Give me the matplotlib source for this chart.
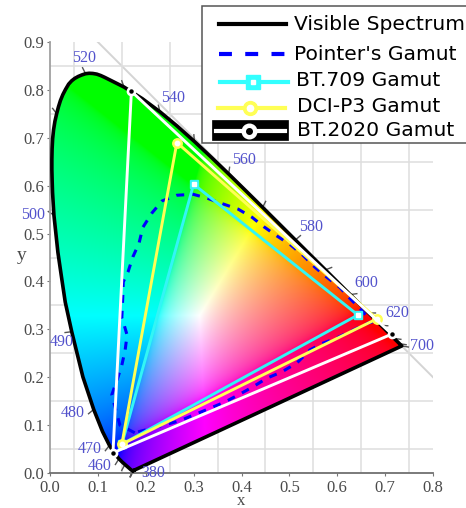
import numpy as np
import matplotlib
matplotlib.use("Agg")
import matplotlib.pyplot as plt
from matplotlib.patches import Polygon, Rectangle

# --- Datos ---
wavelengths = [380, 390, 400, 410, 420, 430, 440, 450, 455, 460, 465, 470, 475, 480, 485, 490,
               493, 495, 497, 500, 502, 503, 504, 505, 506, 507, 508, 509, 510, 511, 512, 513,
               514, 515, 516, 517, 518, 519, 520, 521, 522, 523, 524, 525, 530, 535, 540, 545,
               550, 555, 560, 565, 570, 575, 580, 585, 590, 595, 600, 605, 610, 615, 620, 625,
               630, 640, 650, 660, 680, 700]
locus_x = [.1741, .1738, .1733, .1726, .1714, .1689, .1644, .1566, .1510, .1440, .1355, .1241,
           .1096, .0913, .0687, .0454, .0318, .0235, .0165, .0082, .0053, .0045, .0039, .0039,
           .0044, .0055, .0075, .0103, .0139, .0177, .0219, .0268, .0325, .0389, .0452, .0517,
           .0589, .0665, .0743, .0818, .0895, .0977, .1059, .1142, .1547, .1929, .2296, .2658,
           .3016, .3373, .3731, .4087, .4441, .4788, .5125, .5448, .5752, .6029, .6270, .6482,
           .6658, .6801, .6915, .7006, .7079, .7190, .7260, .7300, .7334, .7347]
locus_y = [.0050, .0049, .0048, .0048, .0051, .0069, .0109, .0177, .0227, .0297, .0399, .0578,
           .0868, .1327, .2007, .2950, .3570, .4127, .4607, .5384, .5860, .6102, .6330, .6548,
           .6770, .6980, .7170, .7345, .7502, .7647, .7781, .7901, .8011, .8120, .8189, .8240,
           .8280, .8312, .8338, .8347, .8343, .8329, .8300, .8262, .8059, .7816, .7543, .7243,
           .6923, .6589, .6245, .5896, .5547, .5202, .4866, .4544, .4242, .3965, .3725, .3514,
           .3340, .3197, .3083, .2993, .2920, .2809, .2740, .2700, .2666, .2653]

pointer_x = [.177, .146, .129, .140, .150, .157, .161, .152, .150, .152, .153, .163, .173, .186,
             .194, .213, .234, .265, .299, .328, .361, .393, .422, .447, .474, .503, .528, .553,
             .578, .605, .626, .647, .672, .664, .599, .570, .543, .516, .484, .453, .424, .397,
             .365, .271, .177]
pointer_y = [.084, .100, .163, .194, .225, .257, .288, .319, .324, .367, .399, .420, .451, .480,
             .513, .543, .568, .580, .582, .574, .562, .551, .534, .514, .495, .476, .455, .430,
             .409, .388, .365, .344, .315, .313, .282, .271, .257, .230, .211, .198, .180, .165,
             .148, .109, .084]

bt709_x = [.643, .30, .15]
bt709_y = [.33, .603, .06]
p3_x = [.683, .265, .15]
p3_y = [.322, .69, .06]
bt2020_x = [.714, .17, .1315]
bt2020_y = [.290, .797, .042]

locus_labels = ["380", "460", "470", "480", "490", "500", "520", "540", "560", "580", "600", "620", "700"]
label_px = [153, 100, 90, 73, 62, 33, 84, 173, 244, 311, 366, 397, 422]
label_py = [473, 466, 449, 413, 342, 215, 58, 98, 160, 227, 283, 313, 346]

legend_labels = ["Visible Spectrum", "Pointer's Gamut", "BT.709 Gamut", "DCI-P3 Gamut", "BT.2020 Gamut"]

W, H = 466, 508
TICK_GREY = "#4a4a4a"
LABEL_BLUE = "#5252cc"


def chromaticity_image(n=700):
    # Color xy -> sRGB, normalizado al maximo de cada pixel
    xs = np.linspace(0, 0.8, n)
    ys = np.linspace(0, 0.9, n)
    x, y = np.meshgrid(xs, ys)
    y = np.maximum(y, 1e-4)
    X, Y, Z = x / y, np.ones_like(x), (1 - x - y) / y
    r = 3.2406 * X - 1.5372 * Y - 0.4986 * Z
    g = -0.9689 * X + 1.8758 * Y + 0.0415 * Z
    b = 0.0557 * X - 0.2040 * Y + 1.0570 * Z
    rgb = np.clip(np.dstack([r, g, b]), 0, None)
    rgb = rgb / np.maximum(rgb.max(axis=2, keepdims=True), 1e-6)
    return np.where(rgb <= 0.0031308, 12.92 * rgb, 1.055 * rgb ** (1 / 2.4) - 0.055)


fig = plt.figure(figsize=(W / 100, H / 100), dpi=100)
ax = fig.add_axes([50 / W, (H - 473) / H, 383 / W, 431 / H])
serif = ["Liberation Serif", "DejaVu Serif"]

# Fondo
ax.set_xlim(0, 0.8)
ax.set_ylim(0, 0.9)
ax.set_xticks(np.arange(0, 0.81, 0.05), minor=True)
ax.set_yticks(np.arange(0, 0.91, 0.05), minor=True)
ax.grid(which="minor", color="#dedede", lw=1.1, zorder=0)
ax.plot([0.1, 0.8], [0.9, 0.2], color="#d4d4d4", lw=1.4, zorder=1)
ax.set_xticks(np.arange(0, 0.81, 0.1))
ax.set_yticks(np.arange(0, 0.91, 0.1))
ax.tick_params(which="minor", length=0)
ax.tick_params(which="major", length=2, color="#777777", labelcolor=TICK_GREY, labelsize=12, pad=2)
ax.tick_params(axis="x", which="major", pad=3)
for lab in ax.get_xticklabels() + ax.get_yticklabels():
    lab.set_family(serif)
ax.spines["top"].set_visible(False)
ax.spines["right"].set_visible(False)
ax.spines["left"].set_color("#a0a0a0")
ax.spines["bottom"].set_color("#707070")
ax.spines["left"].set_linewidth(1.3)
ax.spines["bottom"].set_linewidth(1.3)

# Marcas de longitud de onda sobre el locus
locus = np.column_stack([locus_x, locus_y])
for wl, (px, py) in zip(wavelengths, locus):
    if wl % 10 == 0 and 450 <= wl <= 620 or wl in (380, 390, 400, 640, 660, 700):
        d = np.array([px - 0.33, py - 0.33])
        d = d / np.linalg.norm(d) * 0.014
        ax.plot([px, px + d[0]], [py, py + d[1]], color="#555555", lw=1, zorder=2, clip_on=False)

# Diagrama de cromaticidad
patch = Polygon(locus, closed=True, transform=ax.transData, fc="none", ec="none")
ax.add_patch(patch)
img = ax.imshow(chromaticity_image(), extent=(0, 0.8, 0, 0.9), origin="lower",
                aspect="auto", interpolation="bilinear", zorder=3)
img.set_clip_path(patch)

ax.plot(locus_x + locus_x[:1], locus_y + locus_y[:1], color="black", lw=2.6, zorder=4, solid_joinstyle="round")
ax.plot(pointer_x, pointer_y, color="#0000ff", lw=2.2, ls=(0, (2.6, 2.6)), zorder=5)


def gamut(xs, ys, color, marker, center, zorder, ms=6.0, center_ms=2.2):
    ax.plot(xs + xs[:1], ys + ys[:1], color=color, lw=2.1, zorder=zorder, clip_on=False)
    ax.plot(xs, ys, ls="none", marker=marker, ms=ms, mfc=color, mec=color, zorder=zorder)
    ax.plot(xs, ys, ls="none", marker=marker, ms=center_ms, mfc=center, mec=center, zorder=zorder)


gamut(bt709_x, bt709_y, "#33f5f5", "s", "white", 6)
gamut(p3_x, p3_y, "#ffff55", "o", "white", 7, ms=6.8, center_ms=3.2)
gamut(bt2020_x, bt2020_y, "white", "o", "black", 8)

# Capa superior en pixeles: etiquetas y leyenda
over = fig.add_axes([0, 0, 1, 1], facecolor="none")
over.set_xlim(0, W)
over.set_ylim(H, 0)
over.axis("off")

over.text(241, 501, "x", family=serif, fontsize=12, color=TICK_GREY, ha="center", va="center")
over.text(22, 255, "y", family=serif, fontsize=14, color=TICK_GREY, ha="center", va="center")

for txt, px, py in zip(locus_labels, label_px, label_py):
    over.text(px, py, txt, color=LABEL_BLUE, family=serif, fontsize=11.5, ha="center", va="center")

over.add_patch(Rectangle((202, 6), 280, 137, fc="white", ec="#555555", lw=1.1, clip_on=True, zorder=10))
over.plot([219, 286], [24, 24], color="black", lw=3, zorder=11)
over.plot([219, 287], [54, 54], color="#0000ff", lw=3, ls=(0, (3.1, 3.2)), zorder=11)
over.plot([220, 288], [81.5, 81.5], color="#33ffff", lw=3, zorder=11)
over.plot([253], [81.5], marker="s", ms=9.5, mfc="#33ffff", mec="#33ffff", zorder=12)
over.plot([253], [81.5], marker="s", ms=2.5, mfc="white", mec="white", zorder=13)
over.plot([218, 285], [108, 108], color="#ffff55", lw=3, zorder=11)
over.plot([250], [108], marker="o", ms=10, mfc="#ffff55", mec="#ffff55", zorder=12)
over.plot([250], [108], marker="o", ms=4.5, mfc="white", mec="white", zorder=13)
over.add_patch(Rectangle((212, 120), 76, 20, fc="black", ec="black", lw=0.5, zorder=11))
over.plot([216, 285], [130.5, 130.5], color="white", lw=3, zorder=12)
over.plot([249], [130.5], marker="o", ms=10.5, mfc="white", mec="white", zorder=13)
over.plot([249], [130.5], marker="o", ms=4, mfc="black", mec="black", zorder=14)

legend_x = [294, 294, 296, 297, 297]
legend_y = [24, 54, 81, 106, 131]
for txt, px, py in zip(legend_labels, legend_x, legend_y):
    over.text(px, py, txt, color="black", fontsize=14.6, ha="left", va="center", zorder=15)

fig.savefig("out.png", dpi=100)
